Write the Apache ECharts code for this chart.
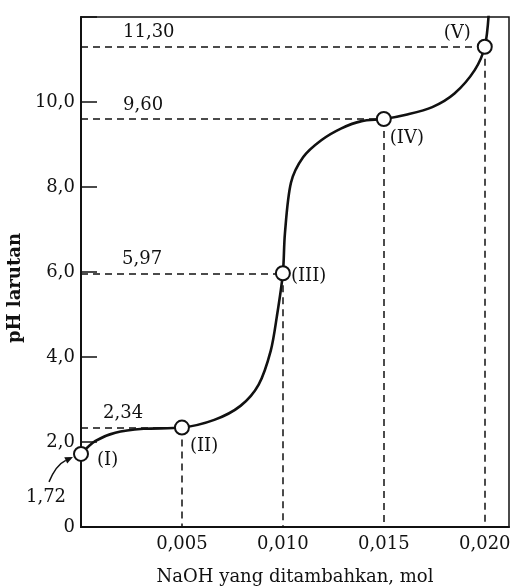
<!DOCTYPE html>
<html>
<head>
<meta charset="utf-8">
<script src="https://cdn.jsdelivr.net/npm/echarts@6/dist/echarts.min.js"></script>
<style>
  html, body { margin: 0; padding: 0; background: #ffffff; }
  #chart { width: 515px; height: 588px; }
</style>
</head>
<body>
<div id="chart"></div>
<script>
// Titration points of the amino acid with NaOH
const pointNames = ['(I)', '(II)', '(III)', '(IV)', '(V)'];
const pointMol = [0, 0.005, 0.010, 0.015, 0.020];
const pointPH = [1.72, 2.34, 5.97, 9.60, 11.30];

// Titration curve: moles of NaOH added vs. solution pH
const curveMol = [0, 0.0007, 0.0017, 0.0031, 0.005, 0.0066, 0.0079, 0.0088, 0.0094, 0.0097,
  0.0100, 0.0101, 0.0104, 0.0110, 0.0119, 0.0129, 0.0139, 0.015, 0.0161, 0.0174,
  0.0185, 0.0195, 0.0200, 0.0202];
const curvePH = [1.72, 2.02, 2.22, 2.31, 2.34, 2.52, 2.85, 3.35, 4.15, 4.95,
  5.97, 6.9, 8.1, 8.7, 9.1, 9.38, 9.55, 9.60, 9.70, 9.88,
  10.2, 10.75, 11.30, 12.1];

// Axis tick labels
const xTickLabels = ['0,005', '0,010', '0,015', '0,020'];
const yTickLabels = ['0', '2,0', '4,0', '6,0', '8,0', '10,0'];

const FONT = '"DejaVu Serif", serif';
const INK = '#111111';

// label placement for the marked points (I)..(V)
const pointLabelLayout = [
  { position: 'right', offset: [3, 6] },
  { position: 'right', offset: [-5, 19] },
  { position: 'right', offset: [-5, 3] },
  { position: 'right', offset: [-7, 19] },
  { position: 'left', offset: [-1, -13] }
];
// left padding of the pH value text above each horizontal guide (points II..V)
const guideLabelPad = [17, 36, 37, 37];

const fmtPH = v => v.toFixed(2).replace('.', ',');

const guideData = [];
for (let i = 1; i < pointMol.length; i++) {
  guideData.push([
    {
      coord: [0, pointPH[i]],
      label: {
        show: true,
        formatter: fmtPH(pointPH[i]),
        position: 'insideStartTop',
        distance: 5,
        padding: [0, 0, 0, guideLabelPad[i - 1]],
        color: INK,
        fontFamily: FONT,
        fontSize: 18
      }
    },
    { coord: [pointMol[i], pointPH[i]] }
  ]);
  guideData.push([
    { coord: [pointMol[i], pointPH[i]], label: { show: false } },
    { coord: [pointMol[i], 0] }
  ]);
}

const chart = echarts.init(document.getElementById('chart'), null, { renderer: 'canvas' });

chart.setOption({
  backgroundColor: '#ffffff',
  animation: false,
  grid: {
    left: 81, right: 6, top: 17, bottom: 61,
    outerBoundsMode: 'none',
    containLabel: false,
    show: true,
    borderColor: INK,
    borderWidth: 1.5,
    backgroundColor: 'transparent'
  },
  xAxis: {
    type: 'value',
    min: 0,
    max: 0.0212,
    interval: 0.005,
    name: 'NaOH yang ditambahkan, mol',
    nameLocation: 'middle',
    nameGap: 41,
    nameTextStyle: { color: INK, fontFamily: FONT, fontSize: 18 },
    axisLine: { show: true, lineStyle: { color: INK, width: 2 } },
    axisTick: { show: false },
    splitLine: { show: false },
    axisLabel: {
      color: INK, fontFamily: FONT, fontSize: 18, margin: 8,
      formatter: v => {
        const k = v / 0.005;
        const r = Math.round(k);
        if (Math.abs(k - r) > 1e-6 || r < 1) return '';
        return xTickLabels[r - 1] || '';
      }
    }
  },
  yAxis: {
    type: 'value',
    min: 0,
    max: 12,
    interval: 2,
    name: 'pH larutan',
    nameLocation: 'middle',
    nameRotate: 90,
    nameGap: 48,
    nameTextStyle: {
      color: INK, fontFamily: FONT, fontSize: 18, fontWeight: 'bold',
      padding: [0, 32, 0, 0]
    },
    axisLine: { show: true, lineStyle: { color: INK, width: 2 } },
    axisTick: { show: true, inside: true, length: 16, lineStyle: { color: INK, width: 1.5 } },
    splitLine: { show: false },
    axisLabel: {
      color: INK, fontFamily: FONT, fontSize: 18, margin: 6,
      formatter: v => yTickLabels[Math.round(v / 2)] || ''
    }
  },
  series: [
    {
      type: 'line',
      data: curveMol.map((m, i) => [m, curvePH[i]]),
      smooth: 0.3,
      showSymbol: false,
      clip: true,
      lineStyle: { color: INK, width: 2.6 },
      z: 3,
      markLine: {
        silent: true,
        symbol: ['none', 'none'],
        lineStyle: { color: INK, width: 1.5, type: [7, 5] },
        label: { show: false },
        data: guideData,
        z: 2
      }
    },
    {
      type: 'scatter',
      clip: false,
      symbol: 'circle',
      symbolSize: 14,
      itemStyle: { color: '#ffffff', borderColor: INK, borderWidth: 2, opacity: 1 },
      emphasis: { disabled: true },
      label: { show: true, color: INK, fontFamily: FONT, fontSize: 18, distance: 5 },
      data: pointMol.map((m, i) => ({
        value: [m, pointPH[i]],
        label: {
          formatter: pointNames[i],
          color: INK,
          position: pointLabelLayout[i].position,
          offset: pointLabelLayout[i].offset
        }
      })),
      z: 5
    }
  ]
});

// Annotation for the starting pH: text with a curved arrow pointing at point (I)
const p = chart.convertToPixel({ gridIndex: 0 }, [pointMol[0], pointPH[0]]);
const s = [p[0] - 32, p[1] + 28];
const c = [p[0] - 25, p[1] + 11];
const e = [p[0] - 8, p[1] + 3];
const dx = e[0] - c[0], dy = e[1] - c[1];
const len = Math.hypot(dx, dy);
const ux = dx / len, uy = dy / len;
const head = 8, half = 3.5;
const base = [e[0] - ux * head, e[1] - uy * head];
chart.setOption({
  graphic: [
    {
      type: 'bezierCurve',
      shape: { x1: s[0], y1: s[1], cpx1: c[0], cpy1: c[1], x2: base[0], y2: base[1] },
      style: { stroke: INK, lineWidth: 1.5, fill: null },
      z: 10
    },
    {
      type: 'polygon',
      shape: {
        points: [
          e,
          [base[0] - uy * half, base[1] + ux * half],
          [base[0] + uy * half, base[1] - ux * half]
        ]
      },
      style: { fill: INK },
      z: 10
    },
    {
      type: 'text',
      style: {
        text: fmtPH(pointPH[0]),
        x: p[0] - 35,
        y: p[1] + 43,
        align: 'center',
        verticalAlign: 'middle',
        font: '18px "DejaVu Serif"',
        fill: INK
      },
      z: 10
    }
  ]
});
</script>
</body>
</html>
